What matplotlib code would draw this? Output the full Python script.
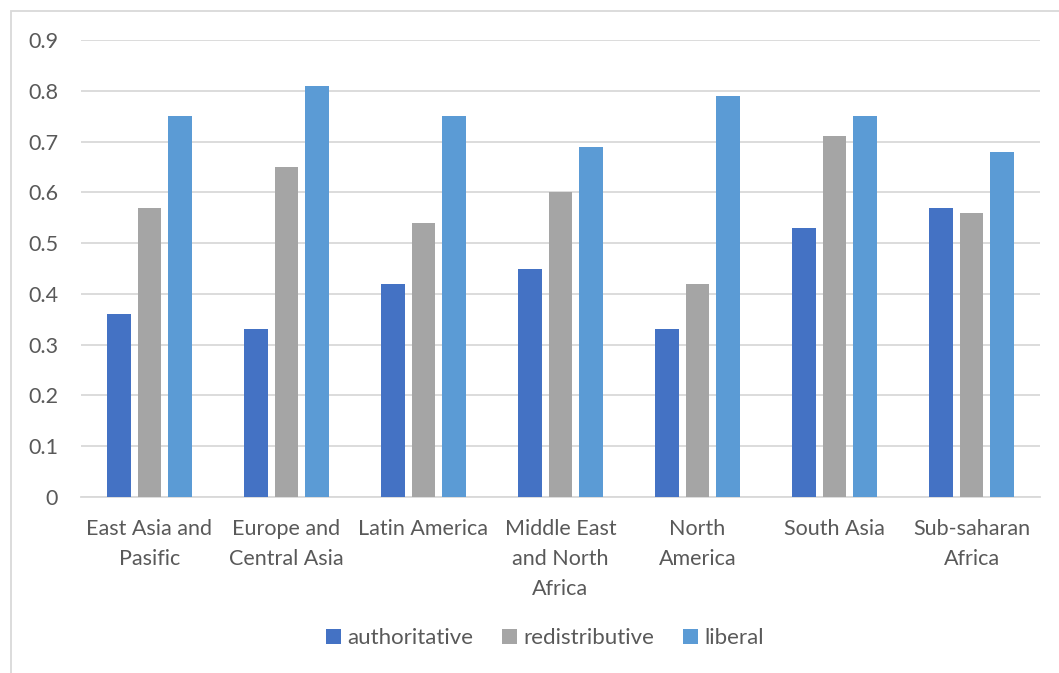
import matplotlib
matplotlib.use("Agg")
import matplotlib.pyplot as plt
import numpy as np
from matplotlib.patches import Rectangle

categories = ["East Asia and\nPasific", "Europe and\nCentral Asia", "Latin America",
              "Middle East\nand North\nAfrica", "North\nAmerica", "South Asia",
              "Sub-saharan\nAfrica"]
authoritative = [0.36, 0.33, 0.42, 0.45, 0.33, 0.53, 0.57]
redistributive = [0.57, 0.65, 0.54, 0.60, 0.42, 0.71, 0.56]
liberal = [0.75, 0.81, 0.75, 0.69, 0.79, 0.75, 0.68]
series_names = ["authoritative", "redistributive", "liberal"]
colors = ["#4472C4", "#A5A5A5", "#5B9BD5"]
yticks = [0, 0.1, 0.2, 0.3, 0.4, 0.5, 0.6, 0.7, 0.8, 0.9]

plt.rcParams['font.family'] = ['Lato', 'DejaVu Sans']
txt = "#595959"

W, H = 1059, 673
fig = plt.figure(figsize=(W / 100, H / 100), dpi=100)
ax = fig.add_axes([81 / W, 1 - 497 / H, (1040 - 81) / W, (497 - 40) / H])

x = np.arange(len(categories))
bw = 0.175
step = 0.222
for i, (vals, name, c) in enumerate(zip([authoritative, redistributive, liberal], series_names, colors)):
    ax.bar(x + (i - 1) * step, vals, width=bw, color=c, label=name, zorder=3)

ax.set_xlim(-0.5, len(categories) - 0.5)
ax.set_ylim(0, 0.9)
ax.set_yticks(yticks)
ax.set_yticklabels([f"{t:g}" for t in yticks])
ax.grid(axis='y', color="#D9D9D9", linewidth=1.3, zorder=0)
ax.set_axisbelow(True)
for s in ["top", "right", "left"]:
    ax.spines[s].set_visible(False)
ax.spines["bottom"].set_color("#D9D9D9")
ax.spines["bottom"].set_linewidth(1.3)
ax.set_xticks(x)
ax.set_xticklabels(categories, fontsize=15.5, color=txt, linespacing=1.62, va='top')
ax.tick_params(axis='both', length=0, colors=txt, labelsize=15.5)
ax.tick_params(axis='x', pad=16)
ax.tick_params(axis='y', pad=16.5)

leg = fig.legend(loc='center', bbox_to_anchor=(545 / W, 1 - 638 / H), ncol=3,
                 frameon=False, fontsize=16, handlelength=0.65, handleheight=0.65,
                 handletextpad=0.3, columnspacing=1.3, labelcolor=txt)

fig.patches.append(Rectangle((11 / W, -0.1), 1.2, 1 - 11 / H + 0.1, transform=fig.transFigure,
                             fill=False, edgecolor="#D9D9D9", linewidth=1.3))

fig.savefig("out.png", dpi=100)
